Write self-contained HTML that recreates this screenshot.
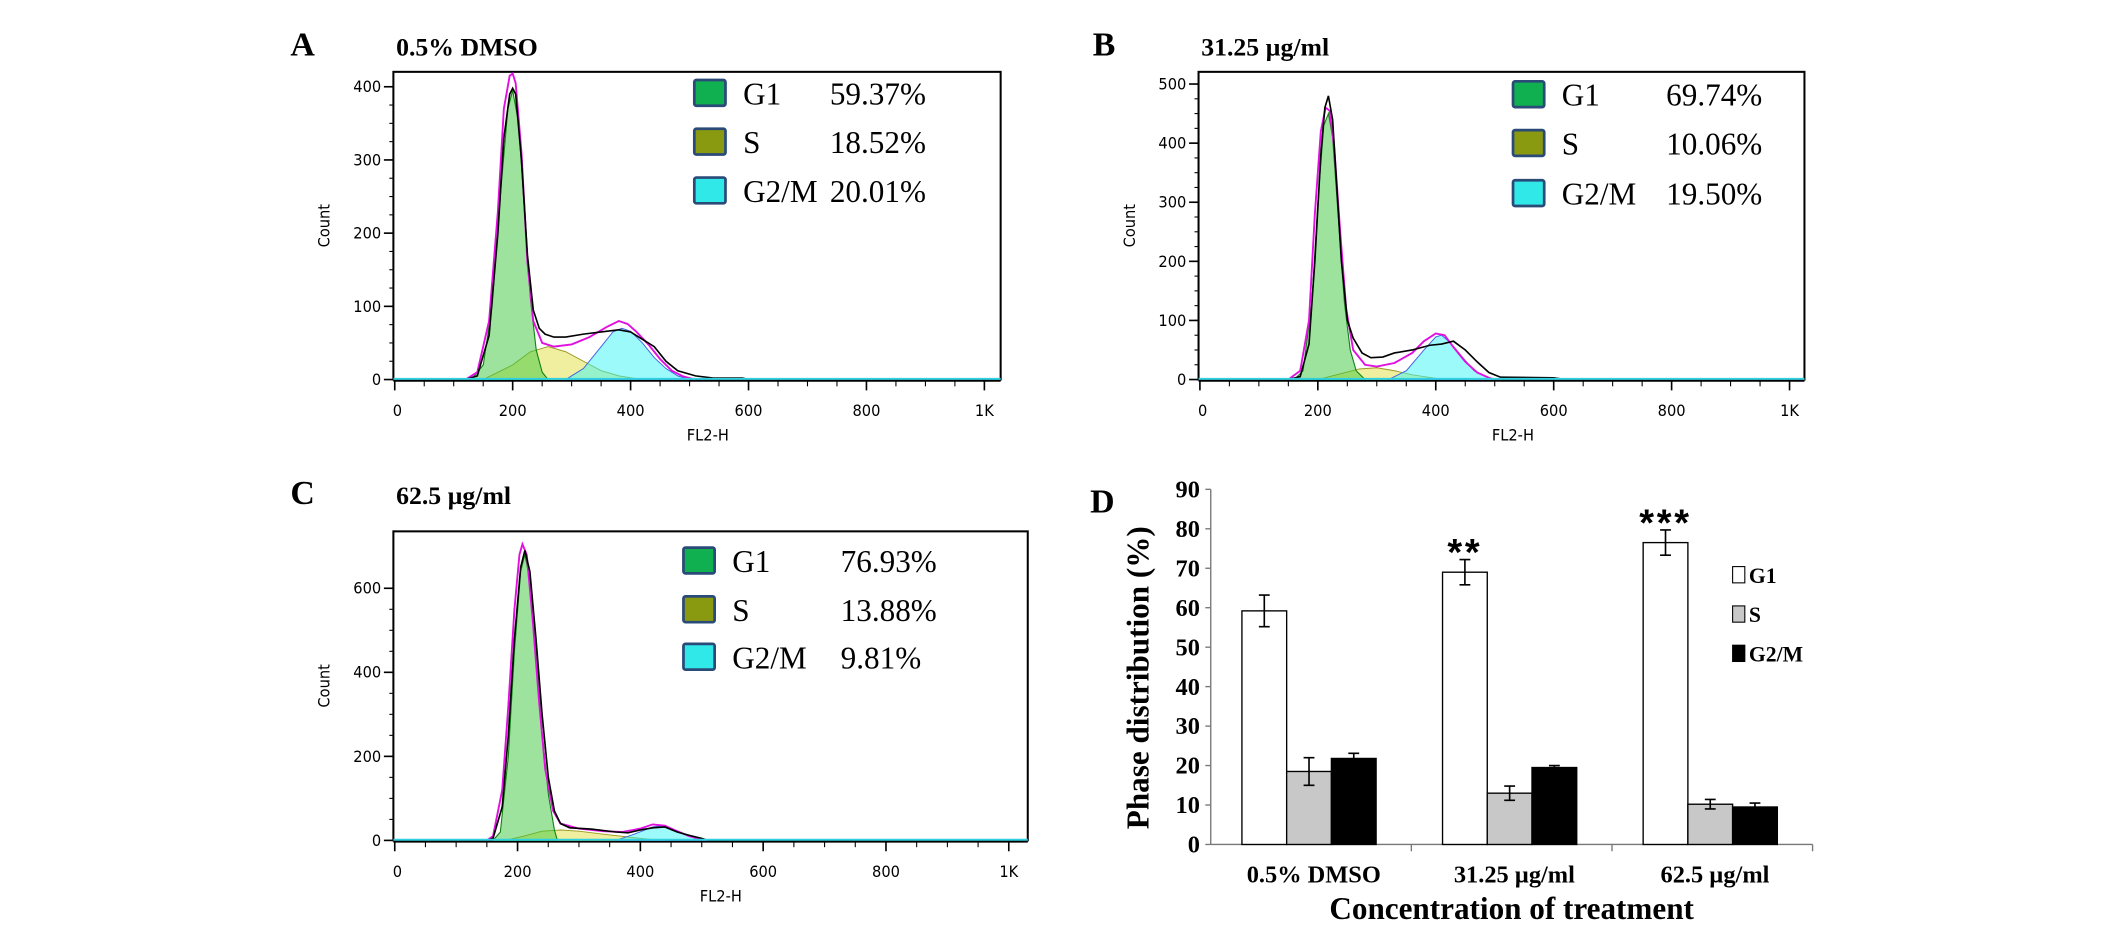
<!DOCTYPE html>
<html><head><meta charset="utf-8"><style>
html,body{margin:0;padding:0;background:#fff;}
svg{display:block;}
</style></head><body>
<svg id="fig" xmlns="http://www.w3.org/2000/svg" width="2126" height="938" viewBox="0 0 1568 692">
<rect width="1568" height="692" fill="#fff"/>
<g id="root"></g>
</svg>
<script>
// ---------- Histogram data (FL2-H, count) ----------
const histA_black = [[120,0],[140,5],[160,60],[175,200],[185,330],[195,390],[200,398],[205,390],[215,300],[225,170],[235,95],[245,70],[255,62],[270,58],[290,58],[320,62],[350,65],[380,68],[400,65],[420,55],[440,45],[460,25],[480,12],[510,5],[540,2],[590,2],[600,0]];
const histA_fit   = [[120,0],[140,10],[160,80],[175,230],[185,370],[195,415],[200,418],[205,405],[215,310],[225,160],[235,80],[250,50],[270,45],[300,48],[330,58],[360,72],[380,80],[395,76],[410,65],[430,48],[450,28],[470,12],[490,4],[510,0]];
const histA_G1    = [[130,0],[150,20],[165,100],[180,260],[192,370],[200,395],[210,350],[220,230],[230,110],[240,40],[250,10],[260,0]];
const histA_S     = [[150,0],[200,20],[230,38],[260,45],[290,38],[320,25],[350,12],[380,5],[420,0]];
const histA_G2    = [[290,0],[320,15],[350,45],[370,65],[385,70],[400,66],[420,50],[440,30],[460,15],[480,5],[500,0]];

const histB_black = [[150,0],[170,5],[185,60],[195,200],[205,380],[212,460],[218,480],[225,440],[232,330],[240,200],[250,100],[260,70],[275,45],[290,37],[310,38],[330,45],[360,50],[390,58],[410,60],[430,65],[450,50],[470,30],[490,12],[510,4],[600,3],[620,0]];
const histB_fit   = [[150,0],[170,15],[185,100],[195,280],[205,420],[213,460],[220,455],[228,390],[238,250],[248,120],[260,50],[280,25],[300,22],[330,28],[360,45],[380,65],[400,78],[415,75],[430,55],[450,30],[470,12],[490,3],[500,0]];
const histB_G1    = [[160,0],[175,15],[190,130],[200,300],[210,430],[218,450],[225,410],[235,270],[245,130],[255,50],[265,15],[280,0]];
const histB_S     = [[200,0],[240,10],[270,18],[300,20],[330,15],[360,8],[400,2],[420,0]];
const histB_G2    = [[320,0],[350,15],[380,50],[400,72],[410,75],[425,62],[445,38],[465,15],[490,2],[500,0]];

const histC_black = [[150,0],[160,5],[175,80],[185,250],[195,480],[205,650],[212,690],[220,640],[230,480],[240,300],[250,150],[260,70],[270,40],[285,30],[320,27],[360,20],[380,18],[400,25],[420,30],[440,32],[460,20],[480,12],[500,5],[510,0]];
const histC_fit   = [[150,0],[160,10],[175,120],[185,320],[195,550],[203,680],[208,705],[215,680],[225,520],[235,330],[245,170],[258,70],[270,40],[300,28],[340,22],[370,20],[400,28],[420,38],[440,35],[460,22],[480,10],[500,3],[510,0]];
const histC_G1    = [[160,0],[172,20],[185,200],[195,450],[205,640],[212,680],[220,620],[230,450],[240,260],[250,110],[260,25],[265,0]];
const histC_S     = [[180,0],[210,10],[240,22],[270,25],[300,22],[340,15],[380,8],[420,2],[440,0]];
const histC_G2    = [[360,0],[390,15],[420,32],[435,35],[450,28],[470,15],[490,5],[505,0]];

const xTickValues = [0,200,400,600,800,1000];
const xTickLabels = ["0","200","400","600","800","1K"];
const yTicksA = [0,100,200,300,400];
const yTicksB = [0,100,200,300,400,500];
const yTicksC = [0,200,400,600];
const legendNames = ["G1","S","G2/M"];
const legendA = ["59.37%","18.52%","20.01%"];
const legendB = ["69.74%","10.06%","19.50%"];
const legendC = ["76.93%","13.88%","9.81%"];

// ---------- Bar chart data ----------
const barCategories = ["0.5% DMSO","31.25 µg/ml","62.5 µg/ml"];
const barG1 = [59.2,69.0,76.5];
const barG1Err = [4.0,3.2,3.2];
const barS = [18.5,13.0,10.2];
const barSErr = [3.5,1.8,1.2];
const barG2M = [21.8,19.5,9.5];
const barG2MErr = [1.3,0.5,1.0];
const barStars = ["","**","***"];
const barYTicks = [0,10,20,30,40,50,60,70,80,90];

const NS="http://www.w3.org/2000/svg";
const root=document.getElementById('root');
function mk(tag,attrs,parent,text){const e=document.createElementNS(NS,tag);for(const k in attrs)e.setAttribute(k,attrs[k]);if(text!==undefined)e.textContent=text;(parent||root).appendChild(e);return e;}

function histPanel(cfg){
  const g=mk('g',{});
  
  
  const {x0,x1,y0,y1,px0,px1000,yTop,yTopVal}=cfg;
  const sx=v=>px0+v*(px1000-px0)/1000;
  const sy=v=>y1-v*(y1-yTop)/yTopVal;
  const L=mk('text',{x:cfg.letterX,y:cfg.letterY,'font-family':'Liberation Serif, serif','font-weight':'bold','font-size':25},g,cfg.letter);
  
  const T=mk('text',{x:x0+2,y:cfg.letterY,'font-family':'Liberation Serif, serif','font-weight':'bold','font-size':19},g,cfg.title);
  
  mk('rect',{x:x0,y:y0,width:x1-x0,height:y1-y0,fill:'#fff',stroke:'#000','stroke-width':1.5},g);
  const fillPath=(pts)=>{let d='M'+sx(pts[0][0])+','+sy(0);pts.forEach(p=>d+=' L'+sx(p[0]).toFixed(1)+','+sy(p[1]).toFixed(1));d+=' L'+sx(pts[pts.length-1][0])+','+sy(0)+'Z';return d;};
  const linePath=(pts)=>{let d='';pts.forEach((p,i)=>{const X=sx(p[0]).toFixed(1),Y=sy(p[1]).toFixed(1);d+=(i==0?'M':' L')+X+','+Y;});return d;};
  const s=mk('path',{d:fillPath(cfg.S),fill:'rgba(225,225,80,0.55)',stroke:'#9a9a20','stroke-width':0.7},g);
  
  const g2=mk('path',{d:fillPath(cfg.G2),fill:'rgba(60,245,245,0.5)',stroke:'#4060e0','stroke-width':0.7},g);
  
  const g1=mk('path',{d:fillPath(cfg.G1),fill:'rgba(60,200,60,0.5)',stroke:'#108010','stroke-width':0.8},g);
  
  const fit=mk('path',{d:linePath(cfg.fit),fill:'none',stroke:'#e010e0','stroke-width':1.4},g);
  
  const hb=mk('path',{d:linePath(cfg.black),fill:'none',stroke:'#000','stroke-width':1.2},g);
  
  mk('line',{x1:x0,y1:y1-0.5,x2:x1,y2:y1-0.5,stroke:'#30d0e0','stroke-width':1.5},g);
  mk('line',{x1:x0,y1:y1+1,x2:x1,y2:y1+1,stroke:'#000','stroke-width':1.2},g);
  for(let v=0;v<=1000+1;v+=50){const X=sx(v);const major=v%200==0;mk('line',{x1:X,y1:y1+1,x2:X,y2:y1+(major?8:5),stroke:'#000','stroke-width':major?1.2:0.8},g);}
  xTickValues.forEach((v,i)=>{const t=mk('text',{x:sx(v)+(i==0?2:0),y:y1+27,'text-anchor':'middle','font-family':'DejaVu Sans Condensed, DejaVu Sans, sans-serif','font-size':12},g,xTickLabels[i]);});
  const xt=mk('text',{x:(px0+px1000)/2+(x1-x0)*0.03,y:y1+45,'text-anchor':'middle','font-family':'DejaVu Sans Condensed, DejaVu Sans, sans-serif','font-size':12},g,'FL2-H');
  
  const minor=cfg.yMinor;
  for(let v=0;v<=yTopVal*1.05;v+=minor){const Y=sy(v);if(Y<y0)break;mk('line',{x1:x0-3,y1:Y,x2:x0,y2:Y,stroke:'#000','stroke-width':0.8},g);}
  cfg.yTicks.forEach(v=>{const Y=sy(v);mk('line',{x1:x0-7,y1:Y,x2:x0,y2:Y,stroke:'#000','stroke-width':1.2},g);const t=mk('text',{x:x0-9,y:Y+4,'text-anchor':'end','font-family':'DejaVu Sans Condensed, DejaVu Sans, sans-serif','font-size':12},g,String(v));});
  const yt=mk('text',{transform:`translate(${x0-47},${(y0+y1)/2}) rotate(-90)`,'text-anchor':'middle','font-family':'DejaVu Sans Condensed, DejaVu Sans, sans-serif','font-size':12},g,'Count');
  
  const cols=['#10b050','#8a9a10','#30e8e8'];
  legendNames.forEach((n,i)=>{const Y=cfg.legY[i];
    const lg=mk('g',{},g);
    mk('rect',{x:cfg.legX,y:Y,width:23,height:19,fill:cols[i],stroke:'#2a4a78','stroke-width':2,rx:1.5},lg);
    mk('text',{x:cfg.legX+36,y:Y+18,'font-family':'Liberation Serif, serif','font-size':23},lg,n);
    mk('text',{x:cfg.legValX,y:Y+18,'font-family':'Liberation Serif, serif','font-size':23},lg,cfg.leg[i]);
  });
}

histPanel({name:'panel-a-histogram',letter:'A',title:'0.5% DMSO',letterX:214,letterY:41,x0:290,x1:738,y0:53,y1:280,px0:291,px1000:726,yTop:64,yTopVal:400,yMinor:25,yTicks:yTicksA,
  black:histA_black,fit:histA_fit,G1:histA_G1,S:histA_S,G2:histA_G2,legX:512,legValX:612,legY:[59,95,131],leg:legendA});
histPanel({name:'panel-b-histogram',letter:'B',title:'31.25 µg/ml',letterX:806,letterY:41,x0:884,x1:1331,y0:53,y1:280,px0:885,px1000:1320,yTop:62,yTopVal:500,yMinor:25,yTicks:yTicksB,
  black:histB_black,fit:histB_fit,G1:histB_G1,S:histB_S,G2:histB_G2,legX:1116,legValX:1229,legY:[60,96,133],leg:legendB});
histPanel({name:'panel-c-histogram',letter:'C',title:'62.5 µg/ml',letterX:214,letterY:372,x0:290,x1:758,y0:392,y1:620,px0:291,px1000:744,yTop:434,yTopVal:600,yMinor:50,yTicks:yTicksC,
  black:histC_black,fit:histC_fit,G1:histC_G1,S:histC_S,G2:histC_G2,legX:504,legValX:620,legY:[404,440,475],leg:legendC});

// ---------- Bar chart ----------
(function(){
  const g=mk('g',{});
  
  
  const ax=893, yb=623, yt=361, xEnd=1337, grpW=148;
  const sy=v=>yb-v*(yb-yt)/90;
  const L=mk('text',{x:804,y:378,'font-family':'Liberation Serif, serif','font-weight':'bold','font-size':25},g,'D');
  
  mk('line',{x1:ax,y1:yt,x2:ax,y2:yb,stroke:'#777','stroke-width':1},g);
  mk('line',{x1:ax,y1:yb,x2:xEnd,y2:yb,stroke:'#777','stroke-width':1},g);
  barYTicks.forEach(v=>{const Y=sy(v);mk('line',{x1:ax-4,y1:Y,x2:ax,y2:Y,stroke:'#777'},g);
    const t=mk('text',{x:ax-8,y:Y+6,'text-anchor':'end','font-family':'Liberation Serif, serif','font-weight':'bold','font-size':18},g,String(v));
    });
  const bw=33;
  const series=[[barG1,barG1Err,'#fff'],[barS,barSErr,'#c8c8c8'],[barG2M,barG2MErr,'#000']];
  const names=['g1','s','g2m'];
  barCategories.forEach((c,i)=>{
    const gx=ax+i*grpW;
    mk('line',{x1:gx+grpW,y1:yb,x2:gx+grpW,y2:yb+5,stroke:'#777'},g);
    series.forEach((s,j)=>{
      const v=s[0][i],e=s[1][i];const X=gx+23+j*bw;
      const r=mk('rect',{x:X,y:sy(v),width:bw,height:yb-sy(v),fill:s[2],stroke:'#000','stroke-width':1},g);
      
      const cx=X+bw/2;
      mk('path',{d:`M${cx},${sy(v+e)} V${sy(v-e)} M${cx-4},${sy(v+e)} H${cx+4} M${cx-4},${sy(v-e)} H${cx+4}`,stroke:'#000','stroke-width':1.2,fill:'none'},g);
    });
    if(barStars[i]){const cx=gx+23+bw/2;const st=mk('text',{x:cx,y:sy(barG1[i]+barG1Err[i])+4,'text-anchor':'middle','font-family':'Liberation Sans, sans-serif','font-weight':'bold','font-size':28,'letter-spacing':2},g,barStars[i]);
      }
    const t=mk('text',{x:gx+grpW/2+2,y:yb+28,'text-anchor':'middle','font-family':'Liberation Serif, serif','font-weight':'bold','font-size':18},g,c);
    
  });
  const xt=mk('text',{x:ax+grpW*1.5,y:yb+55,'text-anchor':'middle','font-family':'Liberation Serif, serif','font-weight':'bold','font-size':23},g,'Concentration of treatment');
  
  const ytl=mk('text',{transform:`translate(847,${(yt+yb)/2+8}) rotate(-90)`,'text-anchor':'middle','font-family':'Liberation Serif, serif','font-weight':'bold','font-size':23},g,'Phase distribution (%)');
  
  const lc=['#fff','#c8c8c8','#000'];
  legendNames.forEach((n,i)=>{const Y=[418,447,476][i];
    const lg=mk('g',{},g);
    mk('rect',{x:1278,y:Y,width:9,height:12,fill:lc[i],stroke:'#000','stroke-width':0.8},lg);
    mk('text',{x:1290,y:Y+12,'font-family':'Liberation Serif, serif','font-weight':'bold','font-size':16},lg,n);
  });
})();
</script>
</body></html>
